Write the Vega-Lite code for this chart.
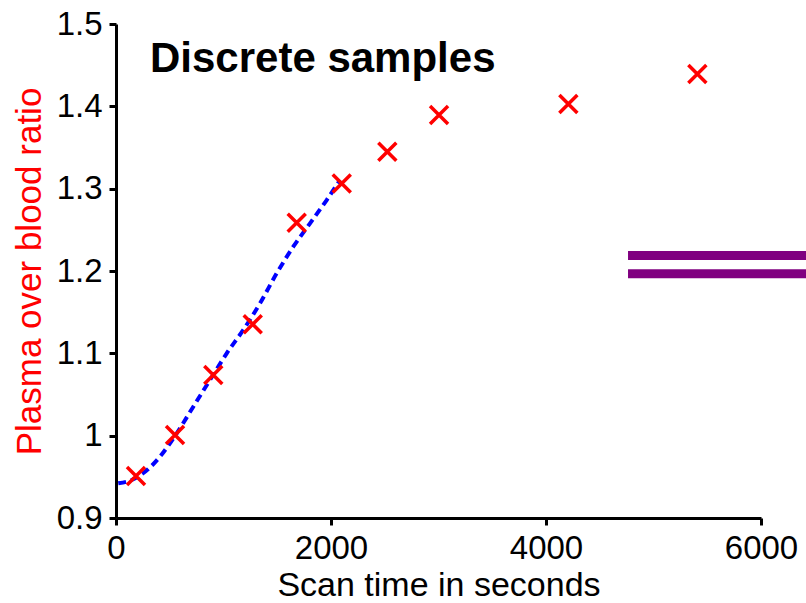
{
  "$schema": "https://vega.github.io/schema/vega-lite/v6.json",
  "width": 645,
  "height": 494,
  "autosize": {"type": "none"},
  "padding": {"left": 116, "top": 24, "right": 45, "bottom": 85},
  "background": "white",
  "config": {
    "view": {"stroke": null},
    "font": "Liberation Sans",
    "axis": {
      "grid": false,
      "domainColor": "black",
      "domainWidth": 3,
      "tickColor": "black",
      "tickWidth": 3,
      "tickSize": 7,
      "labelFont": "Liberation Sans",
      "labelFontSize": 33,
      "labelColor": "black",
      "labelPadding": 7,
      "labelFlush": false,
      "titleFont": "Liberation Sans",
      "titleFontSize": 34,
      "titleFontWeight": "normal",
      "titleColor": "black"
    }
  },
  "datasets": {
    "samples": [
      {"t": 186, "r": 0.951},
      {"t": 549, "r": 1.0008},
      {"t": 905, "r": 1.0737},
      {"t": 1272, "r": 1.1353},
      {"t": 1681, "r": 1.2587},
      {"t": 2100, "r": 1.3064},
      {"t": 2524, "r": 1.3449},
      {"t": 3005, "r": 1.3895},
      {"t": 4208, "r": 1.4029},
      {"t": 5408, "r": 1.4393}
    ],
    "fit": [
      {"t": 21, "r": 0.9421},
      {"t": 146, "r": 0.9462},
      {"t": 300, "r": 0.9595},
      {"t": 409, "r": 0.9745},
      {"t": 565, "r": 1.0029},
      {"t": 719, "r": 1.0352},
      {"t": 874, "r": 1.0676},
      {"t": 1030, "r": 1.1},
      {"t": 1184, "r": 1.1284},
      {"t": 1340, "r": 1.1608},
      {"t": 1495, "r": 1.1972},
      {"t": 1649, "r": 1.2295},
      {"t": 1805, "r": 1.2579},
      {"t": 1960, "r": 1.2862},
      {"t": 2084, "r": 1.3105}
    ],
    "bars": [
      {"t": 4763, "t2": 6500, "r": 1.2188},
      {"t": 4763, "t2": 6500, "r": 1.1966}
    ],
    "label": [
      {"t": 316, "r": 1.4421, "text": "Discrete samples"}
    ]
  },
  "layer": [
    {
      "data": {"name": "fit"},
      "mark": {"type": "line", "color": "#0000ff", "strokeWidth": 4, "strokeDash": [8, 5], "interpolate": "monotone"},
      "encoding": {
        "x": {"field": "t", "type": "quantitative", "scale": {"domain": [0, 6000], "nice": false, "zero": false},
              "axis": {"values": [0, 2000, 4000, 6000], "format": "d", "title": "Scan time in seconds", "titlePadding": 3}},
        "y": {"field": "r", "type": "quantitative", "scale": {"domain": [0.9, 1.5], "nice": false, "zero": false},
              "axis": {"values": [0.9, 1, 1.1, 1.2, 1.3, 1.4, 1.5], "format": "~g", "title": "Plasma over blood ratio", "titleColor": "red", "titleFontSize": 35, "titlePadding": 9}}
      }
    },
    {
      "data": {"name": "samples"},
      "mark": {"type": "point", "shape": "M-1,-1L1,1M-1,1L1,-1", "filled": false, "stroke": "red", "strokeWidth": 3.5, "size": 324, "opacity": 1},
      "encoding": {
        "x": {"field": "t", "type": "quantitative"},
        "y": {"field": "r", "type": "quantitative"}
      }
    },
    {
      "data": {"name": "bars"},
      "mark": {"type": "rule", "color": "#800080", "strokeWidth": 9, "clip": false},
      "encoding": {
        "x": {"field": "t", "type": "quantitative"},
        "x2": {"field": "t2"},
        "y": {"field": "r", "type": "quantitative"}
      }
    },
    {
      "data": {"name": "label"},
      "mark": {"type": "text", "font": "Liberation Sans", "fontWeight": "bold", "fontSize": 42, "align": "left", "baseline": "alphabetic", "color": "black"},
      "encoding": {
        "x": {"field": "t", "type": "quantitative"},
        "y": {"field": "r", "type": "quantitative"},
        "text": {"field": "text"}
      }
    }
  ]
}
